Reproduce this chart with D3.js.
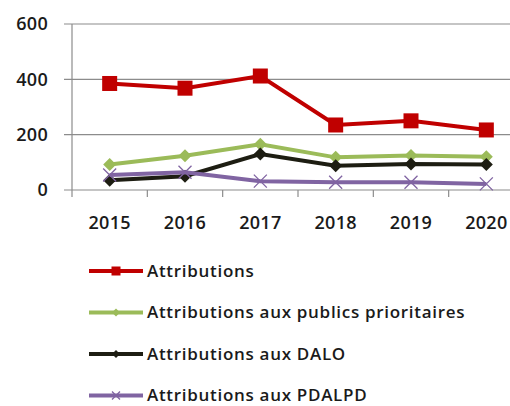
<!DOCTYPE html>
<html>
<head>
<meta charset="utf-8">
<script src="https://cdn.jsdelivr.net/npm/d3@7"></script>
<style>
body { margin: 0; background: #fff; }
text { font-family: 'Open Sans', sans-serif; fill: #1a1a1a; }
</style>
</head>
<body>
<script>
const years = ['2015', '2016', '2017', '2018', '2019', '2020']
const attributions = [385, 368, 412, 235, 250, 217]
const prioritaires = [92, 124, 165, 118, 125, 120]
const dalo = [35, 50, 130, 88, 94, 92]
const pdalpd = [54, 64, 32, 28, 28, 22]
const yTicks = [0, 200, 400, 600]

const series = [
	{ name: 'Attributions', values: attributions, color: '#c00000', marker: 'square' },
	{ name: 'Attributions aux publics prioritaires', values: prioritaires, color: '#9bbb59', marker: 'diamond' },
	{ name: 'Attributions aux DALO', values: dalo, color: '#1d1d12', marker: 'diamond' },
	{ name: 'Attributions aux PDALPD', values: pdalpd, color: '#8064a2', marker: 'cross' }
]

const margin = { top: 24, left: 72 }
const width = 452
const height = 166

const svg = d3.select('body')
	.append('svg')
	.attr('width', 510)
	.attr('height', 406)

const g = svg.append('g')
	.attr('transform', `translate(${margin.left},${margin.top})`)

const x = d3.scaleBand()
	.domain(years)
	.range([0, width])

const y = d3.scaleLinear()
	.domain([0, 600])
	.range([height, 0])

// gridlines
g.selectAll('.grid')
	.data(yTicks)
	.enter()
	.append('line')
	.attr('x1', -8)
	.attr('x2', width)
	.attr('y1', d => y(d))
	.attr('y2', d => y(d))
	.attr('stroke', '#8c8c8c')
	.attr('stroke-width', 1.2)

g.append('line')
	.attr('x1', 0).attr('x2', 0)
	.attr('y1', 0).attr('y2', height)
	.attr('stroke', '#8c8c8c')
	.attr('stroke-width', 1.2)

g.selectAll('.ylab')
	.data(yTicks)
	.enter()
	.append('text')
	.attr('x', -24)
	.attr('y', d => y(d))
	.attr('dy', '0.35em')
	.attr('text-anchor', 'end')
	.style('font-size', '18px')
	.style('font-weight', 600)
	.style('letter-spacing', '0.3px')
	.text(d => d)

// x ticks at band boundaries
g.selectAll('.xtick')
	.data(d3.range(years.length + 1))
	.enter()
	.append('line')
	.attr('x1', i => i * x.step())
	.attr('x2', i => i * x.step())
	.attr('y1', height)
	.attr('y2', height + 7)
	.attr('stroke', '#8c8c8c')
	.attr('stroke-width', 1.2)

g.selectAll('.xlab')
	.data(years)
	.enter()
	.append('text')
	.attr('x', d => x(d) + x.bandwidth() / 2)
	.attr('y', height + 39)
	.attr('text-anchor', 'middle')
	.style('font-size', '18px')
	.style('font-weight', 600)
	.style('letter-spacing', '0.3px')
	.text(d => d)

const line = d3.line()
	.x((d, i) => x(years[i]) + x.bandwidth() / 2)
	.y(d => y(d))

const drawMarker = (sel, s, size) => {
	if (s.marker === 'square') {
		sel.append('rect')
			.attr('x', -size / 2).attr('y', -size / 2)
			.attr('width', size).attr('height', size)
			.attr('fill', s.color)
	} else if (s.marker === 'diamond') {
		const h = size / 2
		sel.append('path')
			.attr('d', `M0,${-h}L${h},0L0,${h}L${-h},0Z`)
			.attr('fill', s.color)
	} else {
		const h = size / 2
		sel.append('path')
			.attr('d', `M${-h},${-h}L${h},${h}M${-h},${h}L${h},${-h}`)
			.attr('stroke', s.color)
			.attr('stroke-width', 1.3)
	}
}

const sizes = { square: 15, diamond: 13, cross: 13 }

series.forEach(s => {
	g.append('path')
		.datum(s.values)
		.attr('d', line)
		.attr('fill', 'none')
		.attr('stroke', s.color)
		.attr('stroke-width', 4)

	s.values.forEach((v, i) => {
		const m = g.append('g')
			.attr('transform', `translate(${x(years[i]) + x.bandwidth() / 2},${y(v)})`)
		drawMarker(m, s, sizes[s.marker])
	})
})

// legend
const legend = svg.append('g')
	.attr('transform', 'translate(89,271)')

series.forEach((s, i) => {
	const row = legend.append('g')
		.attr('transform', `translate(0,${i * 41.5})`)
	row.append('line')
		.attr('x1', 0).attr('x2', 54)
		.attr('stroke', s.color)
		.attr('stroke-width', 4)
	const m = row.append('g').attr('transform', 'translate(27,0)')
	drawMarker(m, s, s.marker === 'square' ? 9 : 8)
	row.append('text')
		.attr('x', 58)
		.attr('dy', '0.33em')
		.style('font-size', '17px')
		.style('font-weight', 600)
		.style('letter-spacing', '0.7px')
		.text(s.name)
})
</script>
</body>
</html>
